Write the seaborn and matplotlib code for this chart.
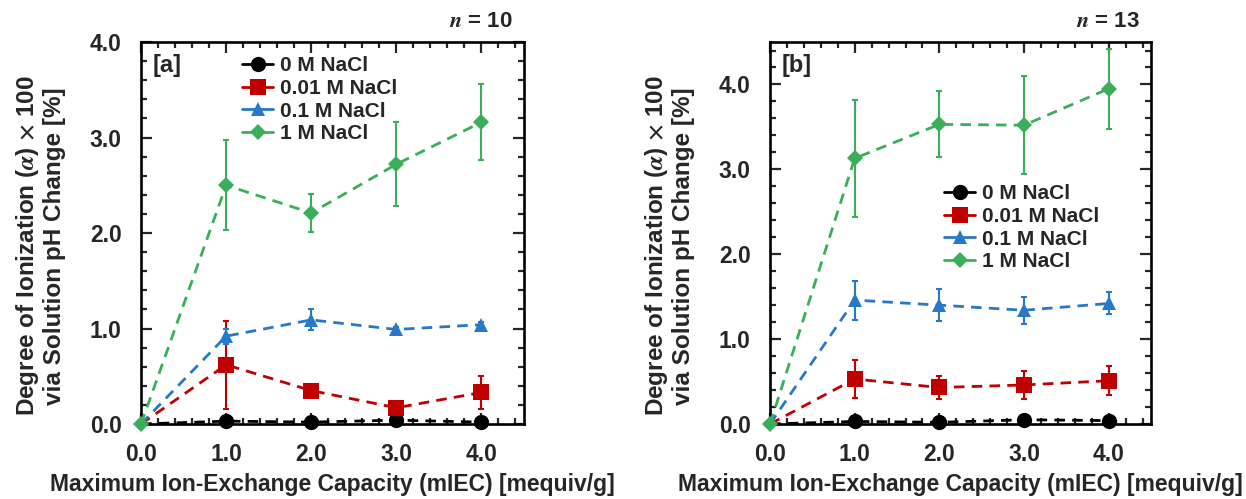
import numpy as np
import pandas as pd
import matplotlib
matplotlib.use("Agg")
import matplotlib.pyplot as plt
from matplotlib.ticker import MultipleLocator, FormatStrFormatter
from matplotlib.lines import Line2D
import seaborn as sns

# Maximum ion-exchange capacity (mIEC) [mequiv/g]
miec = [0.0, 1.0, 2.0, 3.0, 4.0]
salts = ["0 M NaCl", "0.01 M NaCl", "0.1 M NaCl", "1 M NaCl"]

# Panel [a] (n = 10): degree of ionization x 100 [%] and standard deviations
a_0m = [0.0, 0.03, 0.02, 0.04, 0.02]
a_0m_err = [0.0, 0.02, 0.01, 0.02, 0.01]
a_001m = [0.0, 0.62, 0.35, 0.17, 0.33]
a_001m_err = [0.0, 0.46, 0.03, 0.03, 0.17]
a_01m = [0.0, 0.92, 1.09, 0.99, 1.04]
a_01m_err = [0.0, 0.08, 0.11, 0.03, 0.03]
a_1m = [0.0, 2.50, 2.21, 2.72, 3.16]
a_1m_err = [0.0, 0.47, 0.20, 0.44, 0.40]

# Panel [b] (n = 13)
b_0m = [0.0, 0.03, 0.02, 0.05, 0.04]
b_0m_err = [0.0, 0.02, 0.01, 0.02, 0.02]
b_001m = [0.0, 0.53, 0.43, 0.46, 0.51]
b_001m_err = [0.0, 0.22, 0.14, 0.17, 0.17]
b_01m = [0.0, 1.46, 1.40, 1.34, 1.42]
b_01m_err = [0.0, 0.23, 0.19, 0.16, 0.13]
b_1m = [0.0, 3.13, 3.53, 3.52, 3.95]
b_1m_err = [0.0, 0.69, 0.39, 0.58, 0.47]

panel_labels = ["[a]", "[b]"]
panel_n = ["10", "13"]

colors = ["#000000", "#C00000", "#2878C8", "#3AAE5A"]
markers = ["o", "s", "^", "D"]
msizes = [11, 11, 10.5, 8]
# only the 1 M series shows its marker at the origin
mark_at = [[1, 2, 3, 4], [1, 2, 3, 4], [1, 2, 3, 4], [0, 1, 2, 3, 4]]

sns.set_theme(style="ticks")
plt.rcParams["font.family"] = ["Liberation Sans", "DejaVu Sans"]
plt.rcParams["font.weight"] = "bold"
plt.rcParams["mathtext.fontset"] = "stix"

fig = plt.figure(figsize=(12.46, 4.99), dpi=100)
ax_a = fig.add_axes([0.1132, 0.1503, 0.3073, 0.7655])
ax_b = fig.add_axes([0.618, 0.1503, 0.3058, 0.7655])


def make_frame(vals, errs):
    rows = []
    for s, v, e in zip(salts, vals, errs):
        for x, y, ee in zip(miec, v, e):
            rows.append({"mIEC": x, "alpha": y, "err": ee, "salt": s})
    return pd.DataFrame(rows)


def draw_panel(ax, df, ylim, label, n, legend_loc):
    for i, s in enumerate(salts):
        d = df[df["salt"] == s]
        ax.errorbar(d["mIEC"], d["alpha"], yerr=d["err"], fmt="none",
                    ecolor=colors[i], elinewidth=1.5, capsize=2.5,
                    capthick=1.5, zorder=2, clip_on=False)
        sns.lineplot(data=d, x="mIEC", y="alpha", ax=ax, color=colors[i],
                     linestyle=(0, (3.8, 2.6)), linewidth=2.0,
                     marker=markers[i], markersize=msizes[i],
                     markevery=mark_at[i],
                     markeredgewidth=0, legend=False, zorder=3,
                     clip_on=False)
    ax.set_xlim(0, 4.5)
    ax.set_ylim(*ylim)
    ax.xaxis.set_major_locator(MultipleLocator(1.0))
    ax.xaxis.set_minor_locator(MultipleLocator(0.2))
    ax.yaxis.set_major_locator(MultipleLocator(1.0))
    ax.yaxis.set_minor_locator(MultipleLocator(0.2))
    ax.xaxis.set_major_formatter(FormatStrFormatter("%.1f"))
    ax.yaxis.set_major_formatter(FormatStrFormatter("%.1f"))
    ax.tick_params(which="both", direction="in", top=True, right=True,
                   width=1.6, labelsize=16.5)
    ax.tick_params(which="major", length=8, pad=14)
    ax.tick_params(which="minor", length=4.5)
    for t in ax.get_xticklabels() + ax.get_yticklabels():
        t.set_fontweight("bold")
    for sp in ax.spines.values():
        sp.set_linewidth(1.9)
        sp.set_color("black")
    ax.set_xlabel("Maximum Ion-Exchange Capacity (mIEC) [mequiv/g]",
                  fontsize=16.5, fontweight="bold", labelpad=5)
    ax.set_ylabel("Degree of Ionization ($\\alpha$) $\\times$ 100\n"
                  "via Solution pH Change [%]",
                  fontsize=17.5, fontweight="bold", linespacing=1.1)
    ax.yaxis.set_label_coords(-0.197, 0.466)
    ax.text(0.03, 0.968, label, transform=ax.transAxes, fontsize=17,
            fontweight="bold", ha="left", va="top")
    ax.text(0.97, 1.025, "$\\boldsymbol{n}$ = " + n, transform=ax.transAxes,
            fontsize=16, fontweight="bold", ha="right", va="bottom")
    handles = [Line2D([], [], color=c, linestyle="-", linewidth=2.0,
                      marker=m, markersize=ms, markeredgewidth=0)
               for c, m, ms in zip(colors, markers, msizes)]
    leg = ax.legend(handles, salts, loc="upper left",
                    bbox_to_anchor=legend_loc, frameon=False,
                    fontsize=15, handlelength=1.5, handletextpad=0.3,
                    labelspacing=0.18, borderaxespad=0, borderpad=0)
    for t in leg.get_texts():
        t.set_fontweight("bold")


draw_panel(ax_a,
           make_frame([a_0m, a_001m, a_01m, a_1m],
                      [a_0m_err, a_001m_err, a_01m_err, a_1m_err]),
           (0, 4.0), panel_labels[0], panel_n[0], (0.264, 0.963))
draw_panel(ax_b,
           make_frame([b_0m, b_001m, b_01m, b_1m],
                      [b_0m_err, b_001m_err, b_01m_err, b_1m_err]),
           (0, 4.5), panel_labels[1], panel_n[1], (0.457, 0.628))

fig.savefig("out.png", dpi=100)
